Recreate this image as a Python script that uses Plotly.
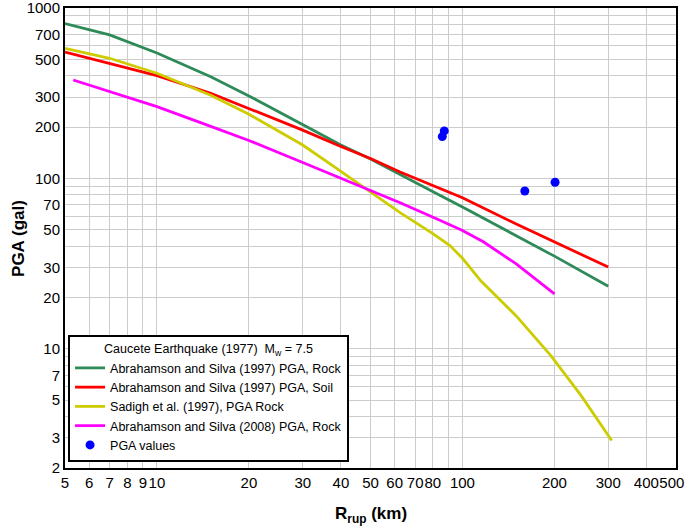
import plotly.graph_objects as go

# --- data ---
r_as97 = [5, 7, 10, 15, 20, 30, 40, 50, 62.5, 84, 100, 150, 200, 300]
pga_as97_rock = [810, 695, 545, 395, 305, 208, 157, 130, 105, 80, 68, 46, 35, 23.3]
pga_as97_soil = [552, 473, 401, 316, 258, 192, 154, 131, 109, 87.5, 77, 54, 42.5, 30.2]

r_sadigh = [5, 7, 10, 15, 20, 30, 40, 50, 62.5, 80, 91, 100, 115, 150, 195, 245, 308]
pga_sadigh = [580, 507, 414, 308, 238, 157, 110, 83, 63, 47.5, 40.4, 34, 25, 15.6, 9.1, 5.3, 2.9]

r_as08 = [5.32, 7, 10, 15, 20, 30, 40, 50, 62.5, 84, 100, 117, 150, 200]
pga_as08 = [378, 323, 264, 202, 167, 124, 100, 85, 72, 57, 49.5, 42.5, 31.5, 21]

r_obs = [87.2, 85.9, 160, 201]
pga_obs = [190, 176, 84.4, 95]

x_grid = [5, 6, 7, 8, 9, 10, 20, 30, 40, 50, 60, 70, 80, 90, 100, 200, 300, 400, 500]
x_labels = ["5", "6", "7", "8", "9", "10", "20", "30", "40", "50", "60", "70", "80", "",
            "100", "200", "300", "400", "500\u00a0\u00a0"]
y_grid = [2, 3, 4, 5, 6, 7, 8, 9, 10, 20, 30, 40, 50, 60, 70, 80, 90,
          100, 200, 300, 400, 500, 600, 700, 800, 900, 1000]
y_labels = ["2", "3", "", "5", "", "7", "", "", "10", "20", "30", "", "50", "", "70", "", "",
            "100", "200", "300", "", "500", "", "700", "", "", "1000"]

names = ["Abrahamson and Silva (1997) PGA, Rock",
         "Abrahamson and Silva (1997) PGA, Soil",
         "Sadigh et al. (1997), PGA Rock",
         "Abrahamson and Silva (2008) PGA, Rock",
         "PGA values"]

FONT = "Liberation Sans, Arial, sans-serif"

fig = go.Figure()
fig.add_trace(go.Scatter(x=r_as97, y=pga_as97_rock, mode="lines", name=names[0],
                         line=dict(color="#2E8B57", width=2.8)))
fig.add_trace(go.Scatter(x=r_as97, y=pga_as97_soil, mode="lines", name=names[1],
                         line=dict(color="#FF0000", width=2.8)))
fig.add_trace(go.Scatter(x=r_sadigh, y=pga_sadigh, mode="lines", name=names[2],
                         line=dict(color="#CCCC00", width=2.8)))
fig.add_trace(go.Scatter(x=r_as08, y=pga_as08, mode="lines", name=names[3],
                         line=dict(color="#FF00FF", width=2.8)))
fig.add_trace(go.Scatter(x=r_obs, y=pga_obs, mode="markers", name=names[4],
                         marker=dict(color="#0000FF", size=9)))

fig.update_layout(
    width=685, height=527,
    margin=dict(l=65, r=9, t=8, b=59, autoexpand=False),
    paper_bgcolor="white", plot_bgcolor="white",
    font=dict(family=FONT, size=15, color="black"),
    showlegend=True,
    legend=dict(
        x=0.005, y=0.013, xanchor="left", yanchor="bottom",
        bgcolor="white", bordercolor="black", borderwidth=2,
        font=dict(family=FONT, size=12.5, color="black"),
        title=dict(text="Caucete Earthquake (1977)  M<sub>w</sub> = 7.5",
                   side="top center", font=dict(family=FONT, size=12.5)),
        tracegroupgap=0,
    ),
    xaxis=dict(
        type="log", range=[0.69897, 2.69902],
        tickmode="array", tickvals=x_grid, ticktext=x_labels, tickangle=0,
        showgrid=True, gridcolor="#CCCCCC", gridwidth=1,
        showline=True, linecolor="black", linewidth=2, mirror=True,
        ticks="", ticklen=0, zeroline=False, automargin=False,
        ticklabeloverflow="allow",
        tickfont=dict(family=FONT, size=15),
    ),
    yaxis=dict(
        type="log", range=[0.30100, 3.00003],
        tickmode="array", tickvals=y_grid, ticktext=y_labels, tickangle=0,
        showgrid=True, gridcolor="#CCCCCC", gridwidth=1,
        showline=True, linecolor="black", linewidth=2, mirror=True,
        ticks="", ticklen=0, zeroline=False, automargin=False,
        ticklabeloverflow="allow",
        tickfont=dict(family=FONT, size=15),
    ),
    annotations=[
        dict(text="<b>R<sub>rup</sub> (km)</b>", xref="paper", yref="paper",
             x=0.5, y=-0.102, xanchor="center", yanchor="middle", showarrow=False,
             font=dict(family=FONT, size=17)),
        dict(text="<b>PGA (gal)</b>", xref="paper", yref="paper",
             x=-0.077, y=0.5, xanchor="center", yanchor="middle", showarrow=False,
             textangle=-90, font=dict(family=FONT, size=17)),
    ],
)

fig.write_html("out.html", config={"displayModeBar": False},
               post_script="document.body.style.margin='0px';")
